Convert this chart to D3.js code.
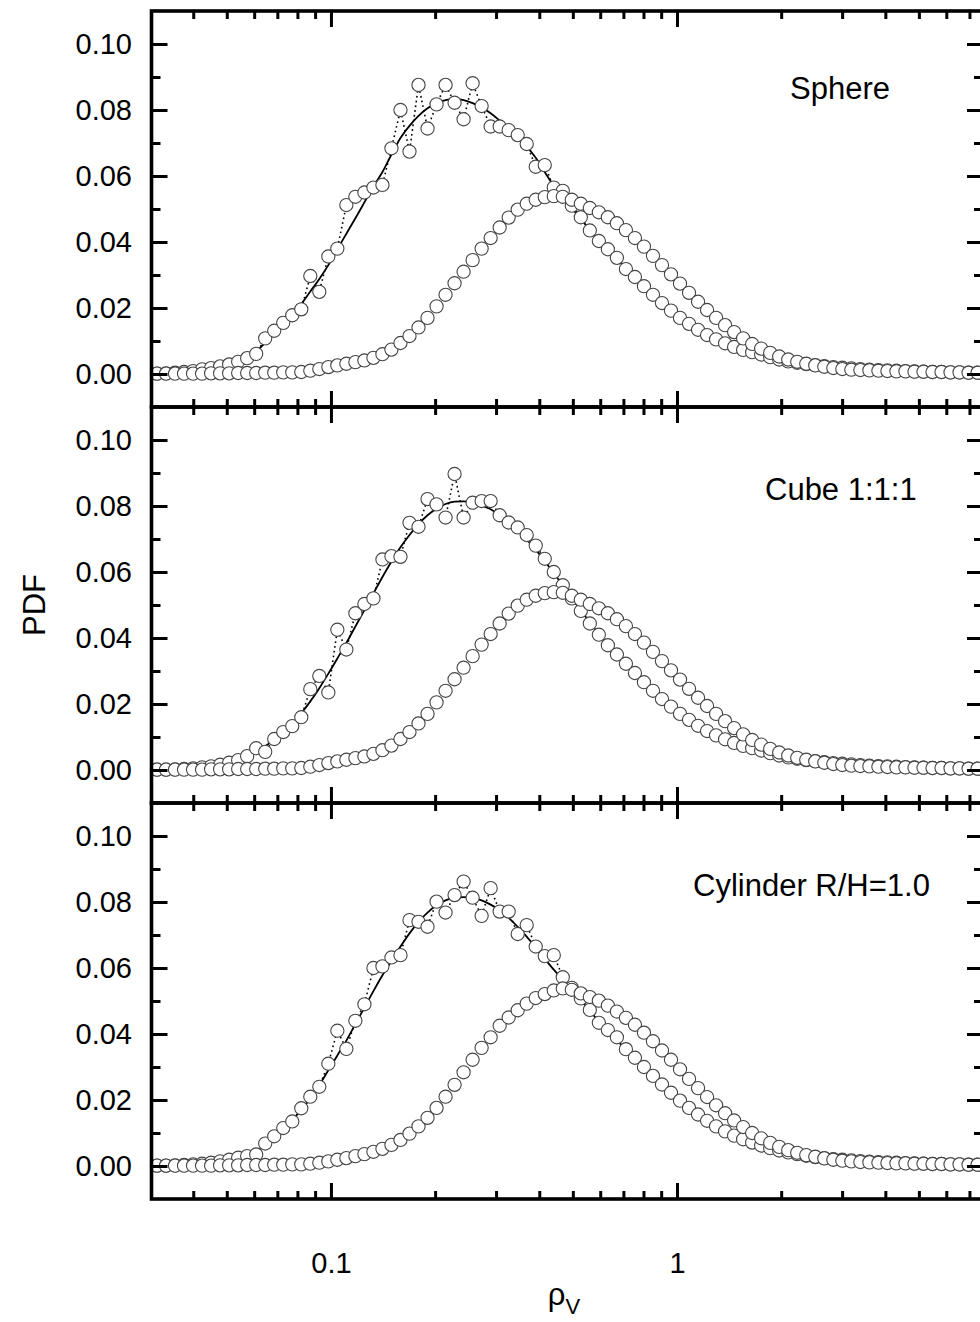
<!DOCTYPE html>
<html>
<head>
<meta charset="utf-8">
<script src="https://cdn.jsdelivr.net/npm/d3@7"></script>
<style>
  body { margin: 0; background: #fff; }
  text { font-family: "Liberation Sans", Arial, sans-serif; fill: #000; }
</style>
</head>
<body>
<div id="chart"></div>
<script>
// bin centres, given as ln(rho_V)
const lnRho = [
  -3.46, -3.40, -3.34, -3.28, -3.22, -3.16, -3.10, -3.04, -2.98, -2.92,
  -2.86, -2.80, -2.74, -2.68, -2.62, -2.56, -2.50, -2.44, -2.38, -2.32,
  -2.26, -2.20, -2.14, -2.08, -2.02, -1.96, -1.90, -1.84, -1.78, -1.72,
  -1.66, -1.60, -1.54, -1.48, -1.42, -1.36, -1.30, -1.24, -1.18, -1.12,
  -1.06, -1.00, -0.94, -0.88, -0.82, -0.76, -0.70, -0.64, -0.58, -0.52,
  -0.46, -0.40, -0.34, -0.28, -0.22, -0.16, -0.10, -0.04, 0.02, 0.08,
  0.14, 0.20, 0.26, 0.32, 0.38, 0.44, 0.50, 0.56, 0.62, 0.68,
  0.74, 0.80, 0.86, 0.92, 0.98, 1.04, 1.10, 1.16, 1.22, 1.28,
  1.34, 1.40, 1.46, 1.52, 1.58, 1.64, 1.70, 1.76, 1.82, 1.88,
  1.94, 2.00
];

// Sphere
const sphereA = [
  0.0001, 0.0002, 0.0004, 0.0006, 0.0009, 0.0014, 0.0018, 0.0023, 0.0029, 0.0037,
  0.0048, 0.0061, 0.0108, 0.0131, 0.0155, 0.0178, 0.0196, 0.0297, 0.0249, 0.0356,
  0.0380, 0.0512, 0.0537, 0.0550, 0.0565, 0.0573, 0.0684, 0.0800, 0.0674, 0.0876,
  0.0744, 0.0817, 0.0876, 0.0822, 0.0772, 0.0881, 0.0812, 0.0750, 0.0750, 0.0739,
  0.0724, 0.0697, 0.0628, 0.0633, 0.0565, 0.0555, 0.0510, 0.0475, 0.0435, 0.0403,
  0.0378, 0.0352, 0.0318, 0.0294, 0.0266, 0.0240, 0.0215, 0.0192, 0.0170, 0.0152,
  0.0134, 0.0118, 0.0105, 0.0093, 0.0082, 0.0073, 0.0066, 0.0059, 0.0051, 0.0044,
  0.0038, 0.0034, 0.0030, 0.0027, 0.0024, 0.0021, 0.0019, 0.0017, 0.0015, 0.0013,
  0.0012, 0.0011, 0.0010, 0.0009, 0.0008, 0.0007, 0.0006, 0.0006, 0.0005, 0.0005,
  0.0004, 0.0004
];
const sphereB = [
  0.0001, 0.0001, 0.0001, 0.0001, 0.0001, 0.0001, 0.0002, 0.0002, 0.0002, 0.0003,
  0.0003, 0.0003, 0.0004, 0.0004, 0.0005, 0.0005, 0.0006, 0.0010, 0.0015, 0.0021,
  0.0026, 0.0031, 0.0036, 0.0041, 0.0049, 0.0060, 0.0074, 0.0094, 0.0115, 0.0141,
  0.0170, 0.0205, 0.0240, 0.0275, 0.0310, 0.0345, 0.0380, 0.0412, 0.0444, 0.0474,
  0.0498, 0.0516, 0.0528, 0.0536, 0.0539, 0.0537, 0.0528, 0.0516, 0.0503, 0.0490,
  0.0475, 0.0457, 0.0436, 0.0412, 0.0386, 0.0358, 0.0330, 0.0302, 0.0274, 0.0246,
  0.0219, 0.0194, 0.0170, 0.0148, 0.0127, 0.0108, 0.0091, 0.0077, 0.0064, 0.0053,
  0.0044, 0.0037, 0.0031, 0.0026, 0.0022, 0.0018, 0.0015, 0.0013, 0.0012, 0.0011,
  0.0010, 0.0009, 0.0008, 0.0008, 0.0007, 0.0007, 0.0006, 0.0006, 0.0005, 0.0005,
  0.0004, 0.0004
];
const sphereFit = [
  0.0001, 0.0002, 0.0004, 0.0006, 0.0009, 0.0013, 0.0017, 0.0022, 0.0029, 0.0038,
  0.0050, 0.0068, 0.0095, 0.0124, 0.0152, 0.0178, 0.0212, 0.0250, 0.0288, 0.0330,
  0.0378, 0.0425, 0.0472, 0.0520, 0.0568, 0.0612, 0.0665, 0.0715, 0.0752, 0.0782,
  0.0805, 0.0820, 0.0830, 0.0834, 0.0830, 0.0821, 0.0808, 0.0790, 0.0768, 0.0745,
  0.0720, 0.0690, 0.0655, 0.0612, 0.0570, 0.0535, 0.0502, 0.0470, 0.0436, 0.0404,
  0.0377, 0.0350, 0.0320, 0.0293, 0.0266, 0.0240, 0.0215, 0.0192, 0.0171, 0.0152,
  0.0134, 0.0118, 0.0105, 0.0093, 0.0082, 0.0073, 0.0065, 0.0058, 0.0051, 0.0044,
  0.0039, 0.0034, 0.0030, 0.0027, 0.0024, 0.0021, 0.0019, 0.0017, 0.0015, 0.0013,
  0.0012, 0.0011, 0.0010, 0.0009, 0.0008, 0.0007, 0.0006, 0.0006, 0.0005, 0.0005,
  0.0004, 0.0004
];

// Cube 1:1:1
const cubeA = [
  0.0001, 0.0001, 0.0002, 0.0003, 0.0005, 0.0008, 0.0011, 0.0016, 0.0022, 0.0030,
  0.0042, 0.0066, 0.0055, 0.0094, 0.0115, 0.0133, 0.0160, 0.0245, 0.0285, 0.0235,
  0.0425, 0.0365, 0.0475, 0.0503, 0.0520, 0.0638, 0.0648, 0.0646, 0.0749, 0.0737,
  0.0821, 0.0805, 0.0765, 0.0897, 0.0765, 0.0810, 0.0815, 0.0815, 0.0772, 0.0750,
  0.0735, 0.0712, 0.0680, 0.0640, 0.0600, 0.0560, 0.0520, 0.0482, 0.0444, 0.0410,
  0.0378, 0.0350, 0.0322, 0.0294, 0.0266, 0.0240, 0.0215, 0.0192, 0.0170, 0.0152,
  0.0134, 0.0118, 0.0105, 0.0093, 0.0082, 0.0073, 0.0066, 0.0059, 0.0051, 0.0044,
  0.0038, 0.0034, 0.0030, 0.0027, 0.0024, 0.0021, 0.0019, 0.0017, 0.0015, 0.0013,
  0.0012, 0.0011, 0.0010, 0.0009, 0.0008, 0.0007, 0.0006, 0.0006, 0.0005, 0.0005,
  0.0004, 0.0004
];
const cubeB = [
  0.0001, 0.0001, 0.0001, 0.0001, 0.0001, 0.0001, 0.0002, 0.0002, 0.0002, 0.0003,
  0.0003, 0.0003, 0.0004, 0.0004, 0.0005, 0.0005, 0.0006, 0.0010, 0.0015, 0.0021,
  0.0026, 0.0031, 0.0036, 0.0041, 0.0049, 0.0060, 0.0074, 0.0094, 0.0115, 0.0141,
  0.0170, 0.0205, 0.0240, 0.0275, 0.0310, 0.0345, 0.0380, 0.0412, 0.0444, 0.0474,
  0.0498, 0.0516, 0.0528, 0.0536, 0.0539, 0.0537, 0.0528, 0.0516, 0.0503, 0.0490,
  0.0475, 0.0457, 0.0436, 0.0412, 0.0386, 0.0358, 0.0330, 0.0302, 0.0274, 0.0246,
  0.0219, 0.0194, 0.0170, 0.0148, 0.0127, 0.0108, 0.0091, 0.0077, 0.0064, 0.0053,
  0.0044, 0.0037, 0.0031, 0.0026, 0.0022, 0.0018, 0.0015, 0.0013, 0.0012, 0.0011,
  0.0010, 0.0009, 0.0008, 0.0008, 0.0007, 0.0007, 0.0006, 0.0006, 0.0005, 0.0005,
  0.0004, 0.0004
];
const cubeFit = [
  0.0001, 0.0001, 0.0002, 0.0003, 0.0005, 0.0008, 0.0011, 0.0016, 0.0022, 0.0030,
  0.0042, 0.0055, 0.0072, 0.0092, 0.0115, 0.0140, 0.0172, 0.0208, 0.0248, 0.0292,
  0.0338, 0.0385, 0.0435, 0.0485, 0.0535, 0.0585, 0.0632, 0.0675, 0.0712, 0.0745,
  0.0772, 0.0792, 0.0806, 0.0813, 0.0814, 0.0810, 0.0802, 0.0790, 0.0772, 0.0750,
  0.0725, 0.0698, 0.0668, 0.0633, 0.0597, 0.0560, 0.0522, 0.0484, 0.0447, 0.0412,
  0.0380, 0.0350, 0.0322, 0.0294, 0.0266, 0.0240, 0.0215, 0.0192, 0.0170, 0.0152,
  0.0134, 0.0118, 0.0105, 0.0093, 0.0082, 0.0073, 0.0066, 0.0059, 0.0051, 0.0044,
  0.0038, 0.0034, 0.0030, 0.0027, 0.0024, 0.0021, 0.0019, 0.0017, 0.0015, 0.0013,
  0.0012, 0.0011, 0.0010, 0.0009, 0.0008, 0.0007, 0.0006, 0.0006, 0.0005, 0.0005,
  0.0004, 0.0004
];

// Cylinder R/H=1.0
const cylA = [
  0.0001, 0.0001, 0.0002, 0.0003, 0.0005, 0.0007, 0.0010, 0.0014, 0.0019, 0.0025,
  0.0030, 0.0035, 0.0068, 0.0090, 0.0115, 0.0135, 0.0175, 0.0210, 0.0240, 0.0310,
  0.0410, 0.0355, 0.0440, 0.0490, 0.0600, 0.0605, 0.0632, 0.0639, 0.0745, 0.0740,
  0.0725, 0.0801, 0.0768, 0.0821, 0.0862, 0.0813, 0.0758, 0.0842, 0.0771, 0.0771,
  0.0703, 0.0730, 0.0665, 0.0636, 0.0639, 0.0572, 0.0540, 0.0508, 0.0473, 0.0434,
  0.0412, 0.0390, 0.0354, 0.0328, 0.0300, 0.0273, 0.0247, 0.0222, 0.0198, 0.0176,
  0.0156, 0.0137, 0.0120, 0.0105, 0.0092, 0.0081, 0.0071, 0.0062, 0.0054, 0.0047,
  0.0041, 0.0036, 0.0031, 0.0027, 0.0024, 0.0021, 0.0019, 0.0017, 0.0015, 0.0013,
  0.0012, 0.0011, 0.0010, 0.0009, 0.0008, 0.0007, 0.0006, 0.0006, 0.0005, 0.0005,
  0.0004, 0.0004
];
const cylB = [
  0.0001, 0.0001, 0.0001, 0.0001, 0.0001, 0.0001, 0.0001, 0.0002, 0.0002, 0.0002,
  0.0003, 0.0003, 0.0003, 0.0004, 0.0004, 0.0005, 0.0005, 0.0007, 0.0010, 0.0014,
  0.0019, 0.0024, 0.0030, 0.0036, 0.0043, 0.0052, 0.0064, 0.0079, 0.0098, 0.0120,
  0.0146, 0.0176, 0.0210, 0.0246, 0.0284, 0.0322, 0.0358, 0.0390, 0.0425, 0.0450,
  0.0472, 0.0492, 0.0509, 0.0521, 0.0532, 0.0538, 0.0534, 0.0523, 0.0512, 0.0501,
  0.0486, 0.0468, 0.0449, 0.0428, 0.0404, 0.0378, 0.0350, 0.0322, 0.0293, 0.0264,
  0.0236, 0.0209, 0.0184, 0.0160, 0.0138, 0.0118, 0.0100, 0.0084, 0.0070, 0.0058,
  0.0048, 0.0040, 0.0033, 0.0028, 0.0023, 0.0019, 0.0016, 0.0014, 0.0012, 0.0011,
  0.0010, 0.0009, 0.0008, 0.0008, 0.0007, 0.0007, 0.0006, 0.0006, 0.0005, 0.0005,
  0.0004, 0.0004
];
const cylFit = [
  0.0001, 0.0001, 0.0002, 0.0003, 0.0005, 0.0007, 0.0010, 0.0014, 0.0019, 0.0025,
  0.0032, 0.0045, 0.0065, 0.0088, 0.0113, 0.0140, 0.0170, 0.0205, 0.0245, 0.0290,
  0.0335, 0.0380, 0.0430, 0.0480, 0.0530, 0.0578, 0.0622, 0.0665, 0.0705, 0.0740,
  0.0768, 0.0790, 0.0805, 0.0813, 0.0815, 0.0812, 0.0805, 0.0792, 0.0775, 0.0752,
  0.0725, 0.0695, 0.0662, 0.0628, 0.0595, 0.0565, 0.0535, 0.0503, 0.0470, 0.0438,
  0.0410, 0.0381, 0.0352, 0.0325, 0.0298, 0.0272, 0.0246, 0.0222, 0.0199, 0.0177,
  0.0156, 0.0137, 0.0120, 0.0105, 0.0092, 0.0081, 0.0071, 0.0062, 0.0054, 0.0047,
  0.0041, 0.0036, 0.0031, 0.0027, 0.0024, 0.0021, 0.0019, 0.0017, 0.0015, 0.0013,
  0.0012, 0.0011, 0.0010, 0.0009, 0.0008, 0.0007, 0.0006, 0.0006, 0.0005, 0.0005,
  0.0004, 0.0004
];

const panelNames = ["Sphere", "Cube 1:1:1", "Cylinder R/H=1.0"];

// axis extents and tick values
const xDomain = [0.0303, 7.66];
const yDomain = [-0.01, 0.11];
const xMajor = [0.1, 1];
const xMinor = [0.04, 0.05, 0.06, 0.07, 0.08, 0.09, 0.2, 0.3, 0.4, 0.5, 0.6, 0.7, 0.8, 0.9, 2, 3, 4, 5, 6, 7];
const xLabels = ["0.1", "1"];
const yMajor = [0, 0.02, 0.04, 0.06, 0.08, 0.10];
const yMinor = [0.01, 0.03, 0.05, 0.07, 0.09];

const rho = lnRho.map(v => Math.exp(v));
const panels = [
  { name: panelNames[0], a: sphereA, b: sphereB, fit: sphereFit },
  { name: panelNames[1], a: cubeA, b: cubeB, fit: cubeFit },
  { name: panelNames[2], a: cylA, b: cylB, fit: cylFit }
];

const width = 980, height = 1322;
const left = 151.5, right = 983;
const top0 = 11, panelH = 396;
const labelX = [790, 765, 693];
const labelY = [99, 500, 896];

const svg = d3.select("#chart")
  .append("svg")
  .attr("width", width)
  .attr("height", height);

const x = d3.scaleLog()
  .domain(xDomain)
  .range([left, right]);

const y = d3.scaleLinear()
  .domain(yDomain)
  .range([panelH, 0]);

svg.append("defs").append("clipPath")
  .attr("id", "clip")
  .append("rect")
  .attr("x", left).attr("y", 0)
  .attr("width", right - left).attr("height", panelH);

const toPts = arr => arr.map((v, i) => ({ r: rho[i], v }));

panels.forEach((p, i) => {
  const g = svg.append("g")
    .attr("transform", `translate(0,${top0 + i * panelH})`);

  const plot = g.append("g").attr("clip-path", "url(#clip)");

  // smooth fit
  plot.append("path")
    .datum(toPts(p.fit))
    .attr("fill", "none")
    .attr("stroke", "#000")
    .attr("stroke-width", 1.8)
    .attr("d", d3.line().curve(d3.curveMonotoneX).x(d => x(d.r)).y(d => y(d.v)));

  // dotted line through the noisy points
  plot.append("path")
    .datum(toPts(p.a))
    .attr("fill", "none")
    .attr("stroke", "#000")
    .attr("stroke-width", 1.6)
    .attr("stroke-dasharray", "1.6,3.2")
    .attr("d", d3.line().x(d => x(d.r)).y(d => y(d.v)));

  [p.a, p.b].forEach(series => {
    g.append("g")
      .selectAll("circle")
      .data(toPts(series))
      .enter()
      .append("circle")
      .attr("cx", d => x(d.r))
      .attr("cy", d => y(d.v))
      .attr("r", 6.6)
      .attr("fill", "#fff")
      .attr("stroke", "#444")
      .attr("stroke-width", 1.1);
  });

  // axes, ticks pointing inward
  const styleAxis = sel => {
    sel.select(".domain").remove();
    sel.selectAll(".tick line").attr("stroke", "#000").attr("stroke-width", 3);
    sel.selectAll(".tick text")
      .style("font-family", "'Liberation Sans', Arial, sans-serif")
      .style("font-size", "29px")
      .attr("fill", "#000");
  };

  g.append("g")
    .attr("transform", `translate(${left},0)`)
    .call(d3.axisLeft(y).tickValues(yMajor).tickSize(-16).tickPadding(19.5).tickFormat(d3.format(".2f")))
    .call(styleAxis);
  g.append("g")
    .attr("transform", `translate(${left},0)`)
    .call(d3.axisLeft(y).tickValues(yMinor).tickSize(-9).tickFormat(""))
    .call(styleAxis);
  g.append("g")
    .attr("transform", `translate(${right},0)`)
    .call(d3.axisRight(y).tickValues(yMajor).tickSize(-16).tickFormat(""))
    .call(styleAxis);
  g.append("g")
    .attr("transform", `translate(${right},0)`)
    .call(d3.axisRight(y).tickValues(yMinor).tickSize(-9).tickFormat(""))
    .call(styleAxis);

  g.append("g")
    .call(d3.axisTop(x).tickValues(xMajor).tickSize(-16).tickFormat(""))
    .call(styleAxis);
  g.append("g")
    .call(d3.axisTop(x).tickValues(xMinor).tickSize(-8).tickFormat(""))
    .call(styleAxis);

  const last = i === panels.length - 1;
  g.append("g")
    .attr("transform", `translate(0,${panelH})`)
    .call(d3.axisBottom(x).tickValues(xMajor).tickSize(-16).tickPadding(53)
      .tickFormat((d, j) => last ? xLabels[j] : ""))
    .call(styleAxis);
  g.append("g")
    .attr("transform", `translate(0,${panelH})`)
    .call(d3.axisBottom(x).tickValues(xMinor).tickSize(-8).tickFormat(""))
    .call(styleAxis);

  // frame
  g.append("rect")
    .attr("x", left).attr("y", 0)
    .attr("width", right - left).attr("height", panelH)
    .attr("fill", "none")
    .attr("stroke", "#000")
    .attr("stroke-width", 3.6);

  svg.append("text")
    .attr("x", labelX[i])
    .attr("y", labelY[i])
    .attr("font-size", 31)
    .text(p.name);
});

// axis titles
svg.append("text")
  .attr("transform", "rotate(-90)")
  .attr("x", -605)
  .attr("y", 45)
  .attr("text-anchor", "middle")
  .attr("font-size", 31)
  .text("PDF");

const xt = svg.append("text")
  .attr("x", 564)
  .attr("y", 1305)
  .attr("text-anchor", "middle")
  .attr("font-size", 31)
  .text("ρ");
xt.append("tspan")
  .attr("font-size", 22)
  .attr("dy", 9)
  .text("V");
</script>
</body>
</html>
